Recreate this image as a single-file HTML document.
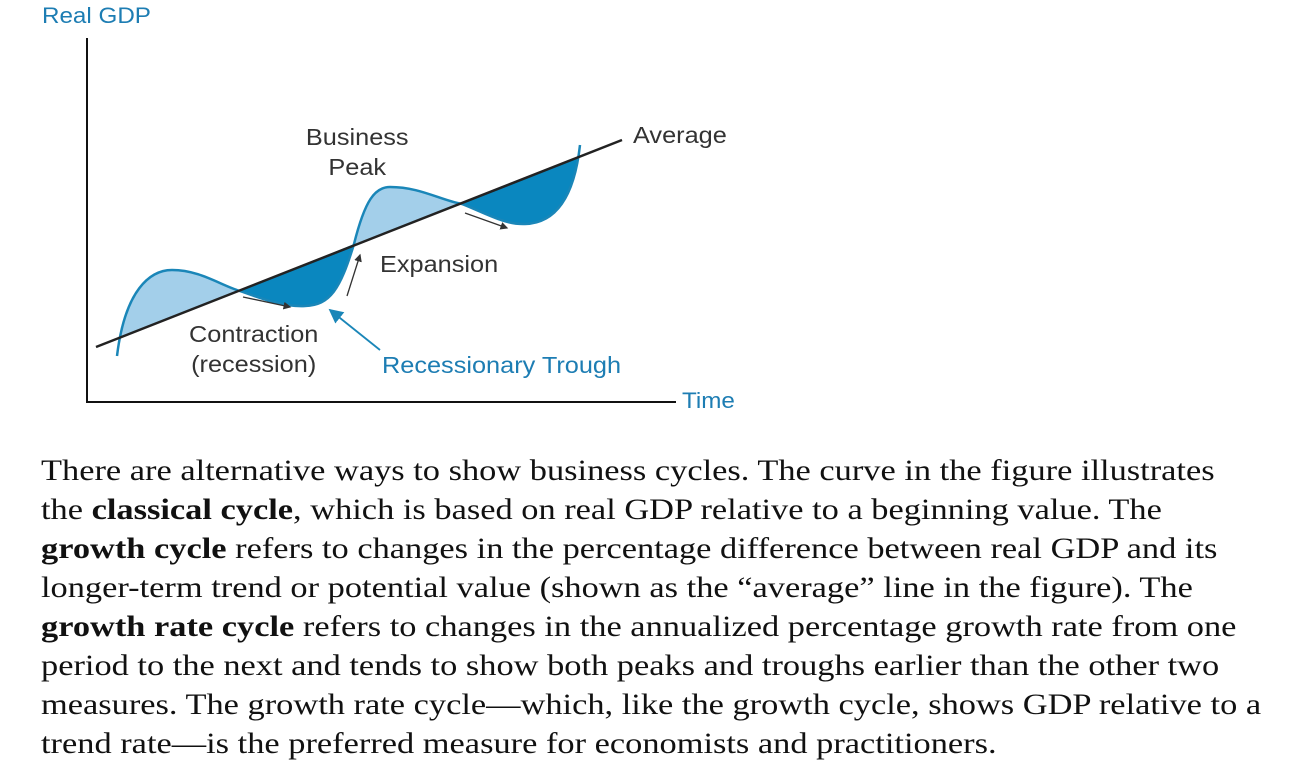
<!DOCTYPE html>
<html><head><meta charset="utf-8"><style>
html,body{margin:0;padding:0;background:#fff;width:1305px;height:784px;overflow:hidden;position:relative}
.s{font-family:"Liberation Sans",sans-serif;position:absolute;white-space:nowrap;transform:scaleX(1.1);transform-origin:0 0}
.p{position:absolute;left:41px;top:451px;font-family:"Liberation Serif",serif;font-size:30px;line-height:39px;color:#111;transform:scaleX(1.146);transform-origin:0 0}
.p div{white-space:nowrap}
</style></head><body>
<svg width="1305" height="784" style="position:absolute;left:0;top:0">
<defs><marker id="a" markerWidth="6" markerHeight="6" refX="5" refY="3" orient="auto"><path d="M0,0L6,3L0,6z" fill="#333"/></marker>
<marker id="b" markerWidth="8" markerHeight="8" refX="7" refY="4" orient="auto"><path d="M0,0L8,4L0,8z" fill="#1a86b8"/></marker></defs>
<path d="M87,38V402H676" stroke="#111" stroke-width="2" fill="none"/>
<path d="M120,338 C128,290 150,270 172,270 C200,270 220,285 240,291 Z" fill="#a3cfea"/>
<path d="M354,244 C365,200 375,187 390,187 C420,187 440,200 462,204 Z" fill="#a3cfea"/>
<path d="M240,291 C265,300 285,307 305,306 C330,305 340,290 354,244 Z" fill="#0a87bf"/>
<path d="M462,204 C485,213 505,225 525,224 C560,223 575,190 580,145 L578,157 Z" fill="#0a87bf"/>
<path d="M117,356 C125,290 150,270 172,270 C200,270 220,285 240,291 C265,300 285,307 305,306 C330,305 340,290 354,244 C365,200 375,187 390,187 C420,187 440,200 462,204 C485,213 505,225 525,224 C560,223 575,190 580,145" stroke="#1a86b8" stroke-width="2.5" fill="none"/>
<line x1="96" y1="347" x2="622" y2="140" stroke="#222" stroke-width="2.5"/>
<line x1="243" y1="297" x2="290" y2="307" stroke="#333" stroke-width="1.3" marker-end="url(#a)"/>
<line x1="347" y1="296" x2="360" y2="255" stroke="#333" stroke-width="1.3" marker-end="url(#a)"/>
<line x1="465" y1="213" x2="507" y2="228" stroke="#333" stroke-width="1.3" marker-end="url(#a)"/>
<line x1="380" y1="350" x2="330" y2="310" stroke="#1a86b8" stroke-width="1.8" marker-end="url(#b)"/>
</svg>
<div class="s" style="left:42px;top:3px;font-size:22px;color:#1d7db3">Real GDP</div>
<div class="s" style="left:305px;top:122px;font-size:23px;color:#333;text-align:center;width:95px;line-height:30px">Business<br>Peak</div>
<div class="s" style="left:633px;top:122px;font-size:23px;color:#333">Average</div>
<div class="s" style="left:380px;top:251px;font-size:23px;color:#333">Expansion</div>
<div class="s" style="left:189px;top:319px;font-size:23px;color:#333;line-height:30px;text-align:center">Contraction<br>(recession)</div>
<div class="s" style="left:382px;top:352px;font-size:23px;color:#1d7db3">Recessionary Trough</div>
<div class="s" style="left:682px;top:388px;font-size:22px;color:#1d7db3">Time</div>
<div class="p">
<div>There are alternative ways to show business cycles. The curve in the figure illustrates</div>
<div>the <b>classical cycle</b>, which is based on real GDP relative to a beginning value. The</div>
<div><b>growth cycle</b> refers to changes in the percentage difference between real GDP and its</div>
<div>longer-term trend or potential value (shown as the “average” line in the figure). The</div>
<div><b>growth rate cycle</b> refers to changes in the annualized percentage growth rate from one</div>
<div>period to the next and tends to show both peaks and troughs earlier than the other two</div>
<div>measures. The growth rate cycle—which, like the growth cycle, shows GDP relative to a</div>
<div>trend rate—is the preferred measure for economists and practitioners.</div>
</div>
</body></html>
